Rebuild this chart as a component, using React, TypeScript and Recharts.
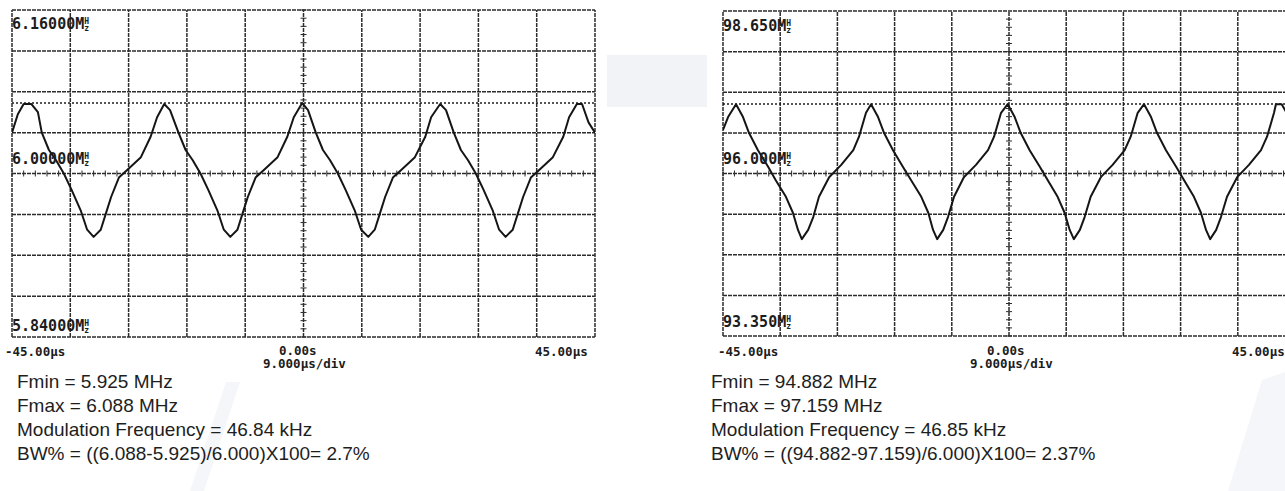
import { LineChart, Line, XAxis, YAxis, ReferenceLine } from "recharts";

const leftTimes = [
  -45.0, -44.1, -43.2, -42.0, -41.0, -40.4, -39.3, -38.2, -37.0, -35.8, -34.4, -33.4, -32.4, -31.3, -30.5, -29.7, -28.5, -27.3, -25.1, -23.6, -22.6,
  -21.5, -20.6, -19.3, -18.2, -17.1, -15.9, -14.7, -13.3, -12.3, -11.3, -10.2, -9.4, -8.6, -7.4, -6.2, -4.0, -2.5, -1.5,
  -0.2, 0.7, 1.9, 3.0, 4.1, 5.3, 6.5, 7.9, 8.9, 10.0, 11.0, 11.8, 12.6, 13.8, 15.0, 17.2, 18.8, 19.7,
  21.1, 22.0, 23.2, 24.3, 25.4, 26.6, 27.8, 29.2, 30.2, 31.2, 32.3, 33.1, 33.9, 35.1, 36.3, 38.5, 40.1, 41.0,
  42.2, 43.0, 44.0, 45.0,
];
const leftFreqs = [
  6.040, 6.058, 6.068, 6.068, 6.060, 6.040, 6.023, 6.013, 6.000, 5.984, 5.964, 5.945, 5.938, 5.945, 5.961, 5.977, 5.996, 6.003, 6.016, 6.036, 6.055,
  6.068, 6.062, 6.040, 6.023, 6.013, 6.000, 5.984, 5.964, 5.945, 5.938, 5.945, 5.961, 5.977, 5.996, 6.003, 6.016, 6.036, 6.055,
  6.069, 6.062, 6.040, 6.023, 6.013, 6.000, 5.984, 5.964, 5.945, 5.938, 5.945, 5.961, 5.977, 5.996, 6.003, 6.016, 6.036, 6.055,
  6.068, 6.062, 6.040, 6.023, 6.013, 6.000, 5.984, 5.964, 5.945, 5.938, 5.945, 5.961, 5.977, 5.996, 6.003, 6.016, 6.036, 6.055,
  6.068, 6.068, 6.050, 6.040,
];

const rightTimes = [
  -45.0, -44.2, -42.95, -41.85, -40.9, -39.5, -37.9, -36.7, -35.1, -34.0, -33.2, -32.6, -31.6, -30.8, -29.9, -28.3, -26.4, -24.5, -23.6, -22.5,
  -21.7, -20.6, -19.65, -18.25, -16.7, -15.4, -13.8, -12.7, -11.95, -11.3, -10.35, -9.6, -8.65, -7.1, -5.2, -3.3, -2.35, -1.25,
  -0.2, 0.9, 1.85, 3.25, 4.85, 6.1, 7.65, 8.75, 9.55, 10.2, 11.15, 11.9, 12.85, 14.45, 16.3, 18.2, 19.15, 20.25,
  21.25, 22.35, 23.3, 24.7, 26.3, 27.55, 29.1, 30.2, 31.0, 31.65, 32.6, 33.35, 34.3, 35.9, 37.75, 39.65, 40.6, 41.7,
  42.0, 42.9, 43.9, 45.0,
];
const rightFreqs = [
  96.71, 96.92, 97.13, 96.92, 96.66, 96.38, 96.11, 95.89, 95.62, 95.36, 95.08, 94.93, 95.08, 95.29, 95.62, 95.94, 96.14, 96.38, 96.60, 96.99,
  97.13, 96.92, 96.66, 96.38, 96.11, 95.89, 95.62, 95.36, 95.08, 94.93, 95.08, 95.29, 95.62, 95.94, 96.14, 96.38, 96.60, 96.99,
  97.13, 96.92, 96.66, 96.38, 96.11, 95.89, 95.62, 95.36, 95.08, 94.93, 95.08, 95.29, 95.62, 95.94, 96.14, 96.38, 96.60, 96.99,
  97.13, 96.92, 96.66, 96.38, 96.11, 95.89, 95.62, 95.36, 95.08, 94.93, 95.08, 95.29, 95.62, 95.94, 96.14, 96.38, 96.60, 96.99,
  97.13, 97.13, 96.95, 96.66,
];

// 10 x 8 graticule
const timeGrid = [-45, -36, -27, -18, -9, 0, 9, 18, 27, 36, 45];
const leftFreqGrid = [5.84, 5.88, 5.92, 5.96, 6.0, 6.04, 6.08, 6.12, 6.16];
const rightFreqGrid = [93.35, 94.0125, 94.675, 95.3375, 96.0, 96.6625, 97.325, 97.9875, 98.65];

const leftCaption = [
  "Fmin = 5.925 MHz",
  "Fmax = 6.088 MHz",
  "Modulation Frequency = 46.84 kHz",
  "BW% = ((6.088-5.925)/6.000)X100= 2.7%",
];
const rightCaption = [
  "Fmin = 94.882 MHz",
  "Fmax = 97.159 MHz",
  "Modulation Frequency = 46.85 kHz",
  "BW% = ((94.882-97.159)/6.000)X100= 2.37%",
];

const scopeFont = "'DejaVu Sans Mono', monospace";
const gridStroke = "#2c2c2c";

function FreqLabel({ value, x, y }: { value: string; x: number; y: number }) {
  return (
    <div
      style={{
        position: "absolute",
        left: x,
        top: y,
        fontFamily: scopeFont,
        fontWeight: "bold",
        fontSize: 15,
        lineHeight: "15px",
        color: "#1c1c1c",
        whiteSpace: "nowrap",
        display: "flex",
        alignItems: "center",
      }}
    >
      {value}M
      <span style={{ display: "inline-flex", flexDirection: "column", fontSize: 8, lineHeight: "7px", fontWeight: "bold" }}>
        <span>H</span>
        <span>z</span>
      </span>
    </div>
  );
}

function ScopePanel({
  times,
  freqs,
  freqGrid,
  peak,
  width,
  height,
  margin,
}: {
  times: number[];
  freqs: number[];
  freqGrid: number[];
  peak: number;
  width: number;
  height: number;
  margin: { top: number; right: number; bottom: number; left: number };
}) {
  const data = times.map((t, i) => ({ t, f: freqs[i] }));
  const yMin = freqGrid[0];
  const yMax = freqGrid[freqGrid.length - 1];
  const mid = freqGrid[4];
  const plotH = height - margin.top - margin.bottom;
  const plotW = width - margin.left - margin.right;
  const dy = ((yMax - yMin) / plotH) * 3; // 3px half tick
  const dx = (90 / plotW) * 3;
  const xMinor: number[] = [];
  for (let i = 0; i <= 50; i++) xMinor.push(-45 + i * 1.8);
  const yMinor: number[] = [];
  const step = (freqGrid[1] - freqGrid[0]) / 5;
  for (let i = 0; i <= 40; i++) yMinor.push(yMin + i * step);

  return (
    <LineChart width={width} height={height} data={data} margin={margin}>
      <XAxis dataKey="t" type="number" domain={[-45, 45]} hide allowDataOverflow />
      <YAxis type="number" domain={[yMin, yMax]} hide allowDataOverflow />
      {timeGrid.map((v) => (
        <ReferenceLine key={"x" + v} x={v} stroke={gridStroke} strokeWidth={1.5} strokeDasharray="4 1" ifOverflow="visible" />
      ))}
      {freqGrid.map((v) => (
        <ReferenceLine key={"y" + v} y={v} stroke={gridStroke} strokeWidth={1.5} strokeDasharray="4 1" ifOverflow="visible" />
      ))}
      {xMinor.map((v) => (
        <ReferenceLine
          key={"mx" + v}
          segment={[
            { x: v, y: mid - dy },
            { x: v, y: mid + dy },
          ]}
          stroke={gridStroke}
          strokeWidth={1}
        />
      ))}
      {yMinor.map((v) => (
        <ReferenceLine
          key={"my" + v}
          segment={[
            { x: -dx, y: v },
            { x: dx, y: v },
          ]}
          stroke={gridStroke}
          strokeWidth={1}
        />
      ))}
      <ReferenceLine y={peak} stroke="#1e1e1e" strokeWidth={1.7} strokeDasharray="2 2" />
      <Line
        type="linear"
        dataKey="f"
        stroke="#151515"
        strokeWidth={2}
        strokeLinejoin="round"
        dot={false}
        isAnimationActive={false}
      />
    </LineChart>
  );
}

const axisText: React.CSSProperties = {
  position: "absolute",
  fontFamily: scopeFont,
  fontWeight: "bold",
  fontSize: 12.5,
  lineHeight: "12px",
  color: "#1c1c1c",
  whiteSpace: "nowrap",
};

const captionStyle: React.CSSProperties = {
  position: "absolute",
  fontFamily: "'Liberation Sans', Arial, sans-serif",
  fontSize: 19,
  lineHeight: "24px",
  color: "#1e1e1e",
  whiteSpace: "nowrap",
};

export default function App() {
  return (
    <div
      style={{
        position: "fixed",
        left: 0,
        top: 0,
        width: 1285,
        height: 491,
        overflow: "hidden",
        background: "#fff",
      }}
    >
      {/* faint background shapes of the source slide */}
      <svg width={1285} height={491} style={{ position: "absolute", left: 0, top: 0 }}>
        <rect x={607} y={55} width={100} height={52} fill="#f2f3f7" />
        <polygon points="226,382 240,382 204,491 190,491" fill="#f5f6fa" />
        <polygon points="1262,380 1285,372 1285,491 1228,491" fill="#f5f6fa" />
      </svg>

      <div style={{ position: "absolute", left: 0, top: 0 }}>
        <ScopePanel
          times={leftTimes}
          freqs={leftFreqs}
          freqGrid={leftFreqGrid}
          peak={6.069}
          width={600}
          height={345}
          margin={{ top: 10, right: 5, bottom: 8, left: 12 }}
        />
      </div>
      <div style={{ position: "absolute", left: 718, top: 0 }}>
        <ScopePanel
          times={rightTimes}
          freqs={rightFreqs}
          freqGrid={rightFreqGrid}
          peak={97.133}
          width={582}
          height={345}
          margin={{ top: 11, right: 5, bottom: 9, left: 5 }}
        />
      </div>

      <FreqLabel value="6.16000" x={12} y={17} />
      <FreqLabel value="6.00000" x={12} y={152} />
      <FreqLabel value="5.84000" x={12} y={319} />
      <FreqLabel value="98.650" x={723} y={19} />
      <FreqLabel value="96.000" x={723} y={152} />
      <FreqLabel value="93.350" x={723} y={315} />

      <div style={{ ...axisText, left: 5, top: 346 }}>-45.00µs</div>
      <div style={{ ...axisText, left: 279, top: 345 }}>0.00s</div>
      <div style={{ ...axisText, left: 263, top: 358 }}>9.000µs/div</div>
      <div style={{ ...axisText, left: 535, top: 346 }}>45.00µs</div>

      <div style={{ ...axisText, left: 718, top: 346 }}>-45.00µs</div>
      <div style={{ ...axisText, left: 987, top: 345 }}>0.00s</div>
      <div style={{ ...axisText, left: 970, top: 358 }}>9.000µs/div</div>
      <div style={{ ...axisText, left: 1232, top: 346 }}>45.00µs</div>

      <div style={{ ...captionStyle, left: 17, top: 370 }}>
        {leftCaption.map((s) => (
          <div key={s}>{s}</div>
        ))}
      </div>
      <div style={{ ...captionStyle, left: 711, top: 370 }}>
        {rightCaption.map((s) => (
          <div key={s}>{s}</div>
        ))}
      </div>
    </div>
  );
}
